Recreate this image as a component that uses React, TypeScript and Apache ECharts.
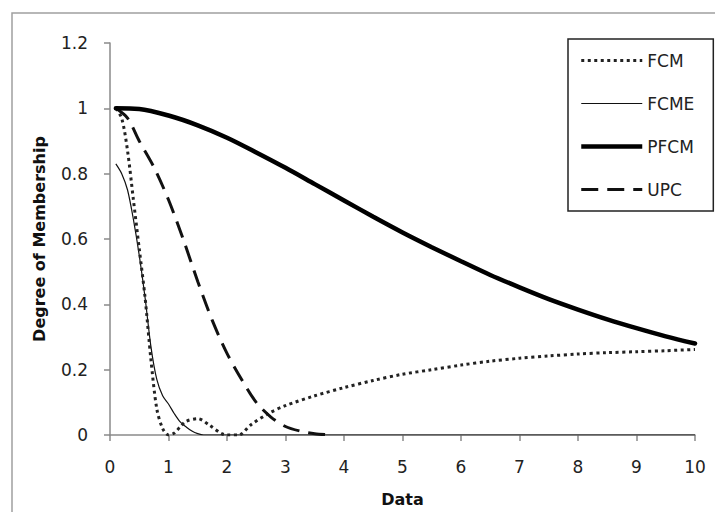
import React, { useEffect, useRef } from "react";
import * as echarts from "echarts";

const xTicks = [0, 1, 2, 3, 4, 5, 6, 7, 8, 9, 10];
const yTicks = [0, 0.2, 0.4, 0.6, 0.8, 1, 1.2];
const seriesNames = ["FCM", "FCME", "PFCM", "UPC"];

const fcmX = [0.1, 0.2, 0.3, 0.4, 0.5, 0.6, 0.7, 0.8, 0.9, 1.0, 1.1, 1.2, 1.3, 1.5, 1.7, 1.9, 2.0, 2.2, 2.4, 2.7, 3.0, 3.5, 4.0, 4.5, 5.0, 5.5, 6.0, 6.5, 7.0, 7.5, 8.0, 8.5, 9.0, 9.5, 10.0];
const fcmY = [1.0, 0.97, 0.87, 0.72, 0.57, 0.42, 0.23, 0.08, 0.02, 0.0, 0.006, 0.025, 0.042, 0.05, 0.03, 0.005, 0.0, 0.0, 0.03, 0.065, 0.09, 0.12, 0.145, 0.167, 0.186, 0.2, 0.214, 0.226, 0.235, 0.242, 0.248, 0.252, 0.255, 0.258, 0.262];

const fcmeX = [0.1, 0.2, 0.3, 0.4, 0.5, 0.6, 0.7, 0.8, 0.9, 1.0, 1.1, 1.2, 1.3, 1.4, 1.5, 1.6, 2.0, 4.0, 6.0, 8.0, 10.0];
const fcmeY = [0.83, 0.8, 0.75, 0.66, 0.55, 0.42, 0.27, 0.17, 0.12, 0.095, 0.065, 0.04, 0.025, 0.012, 0.004, 0.0, 0.0, 0.0, 0.0, 0.0, 0.0];

const pfcmX = [0.1, 0.5, 1.0, 1.5, 2.0, 2.5, 3.0, 3.5, 4.0, 4.5, 5.0, 5.5, 6.0, 6.5, 7.0, 7.5, 8.0, 8.5, 9.0, 9.5, 10.0];
const pfcmY = [1.0, 0.998, 0.978, 0.948, 0.91, 0.865, 0.818, 0.768, 0.718, 0.668, 0.62, 0.575, 0.532, 0.49, 0.452, 0.416, 0.384, 0.354, 0.327, 0.302, 0.28];

const upcX = [0.1, 0.3, 0.5, 0.75, 1.0, 1.25, 1.5, 1.75, 2.0, 2.25, 2.5, 2.75, 3.0, 3.25, 3.5, 3.8];
const upcY = [1.0, 0.97, 0.9, 0.82, 0.72, 0.6, 0.47, 0.35, 0.25, 0.17, 0.1, 0.055, 0.026, 0.012, 0.004, 0.0];

const pairs = (xs: number[], ys: number[]) => xs.map((x, i) => [x, ys[i]]);

const FONT = "DejaVu Sans";

export default function App() {
  const ref = useRef<HTMLDivElement>(null);
  useEffect(() => {
    if (!ref.current) return;
    const chart = echarts.init(ref.current, undefined, { renderer: "svg" });
    const base = { type: "line", symbol: "none", showSymbol: false, smooth: 0.3, silent: true };
    chart.setOption({
      animation: false,
      backgroundColor: "#ffffff",
      textStyle: { fontFamily: FONT },
      graphic: [
        {
          type: "rect",
          shape: { x: 12, y: 13, width: 900, height: 700 },
          style: { fill: "none", stroke: "#a0a0a0", lineWidth: 1.5 },
          silent: true,
          z: -10,
        },
      ],
      grid: { left: 110, top: 43, right: 20, bottom: 74, containLabel: false },
      legend: {
        data: seriesNames,
        orient: "vertical",
        left: 568,
        top: 39,
        padding: [13, 19, 13, 11],
        itemWidth: 61,
        itemHeight: 14,
        itemGap: 26,
        borderColor: "#222",
        borderWidth: 1.5,
        backgroundColor: "#fff",
        itemStyle: { opacity: 0, borderWidth: 0 },
        lineStyle: { width: "inherit", type: "inherit", color: "inherit", cap: "butt" },
        textStyle: { fontFamily: FONT, fontSize: 17, color: "#222" },
        selectedMode: false,
      },
      xAxis: {
        type: "value",
        min: xTicks[0],
        max: xTicks[xTicks.length - 1],
        interval: 1,
        name: "Data",
        nameLocation: "middle",
        nameGap: 56,
        nameTextStyle: { fontFamily: FONT, fontSize: 16, fontWeight: "bold", color: "#111" },
        axisLine: { onZero: false, lineStyle: { color: "#8a8a8a", width: 1.5 } },
        axisTick: { show: true, inside: false, length: 6, lineStyle: { color: "#8a8a8a", width: 1.5 } },
        axisLabel: { margin: 23, fontSize: 17, color: "#222", fontFamily: FONT },
        splitLine: { show: false },
      },
      yAxis: {
        type: "value",
        min: yTicks[0],
        max: yTicks[yTicks.length - 1],
        interval: 0.2,
        name: "Degree of Membership",
        nameLocation: "middle",
        nameGap: 63,
        nameTextStyle: { fontFamily: FONT, fontSize: 16, fontWeight: "bold", color: "#111" },
        axisLine: { show: true, lineStyle: { color: "#8a8a8a", width: 1.5 } },
        axisTick: { show: true, inside: false, length: 6, lineStyle: { color: "#8a8a8a", width: 1.5 } },
        axisLabel: {
          margin: 22,
          fontSize: 17,
          color: "#222",
          fontFamily: FONT,
          formatter: (v: number) => String(Math.round(v * 10) / 10),
        },
        splitLine: { show: false },
      },
      series: [
        {
          ...base,
          name: seriesNames[0],
          data: pairs(fcmX, fcmY),
          z: 3,
          lineStyle: { color: "#222", width: 3, type: [3, 3.5], cap: "butt" },
          itemStyle: { color: "#222" },
        },
        {
          ...base,
          name: seriesNames[1],
          data: pairs(fcmeX, fcmeY),
          z: 2,
          lineStyle: { color: "#111", width: 1.2, type: "solid" },
          itemStyle: { color: "#111" },
        },
        {
          ...base,
          name: seriesNames[2],
          data: pairs(pfcmX, pfcmY),
          z: 4,
          lineStyle: { color: "#000", width: 4.5, type: "solid", cap: "round" },
          itemStyle: { color: "#000" },
        },
        {
          ...base,
          name: seriesNames[3],
          data: pairs(upcX, upcY),
          z: 3,
          lineStyle: { color: "#111", width: 3, type: [17, 9], cap: "butt" },
          itemStyle: { color: "#111" },
        },
      ],
    });
    return () => chart.dispose();
  }, []);
  return (
    <div
      ref={ref}
      style={{ position: "fixed", left: 0, top: 0, width: 715, height: 512 }}
    />
  );
}
